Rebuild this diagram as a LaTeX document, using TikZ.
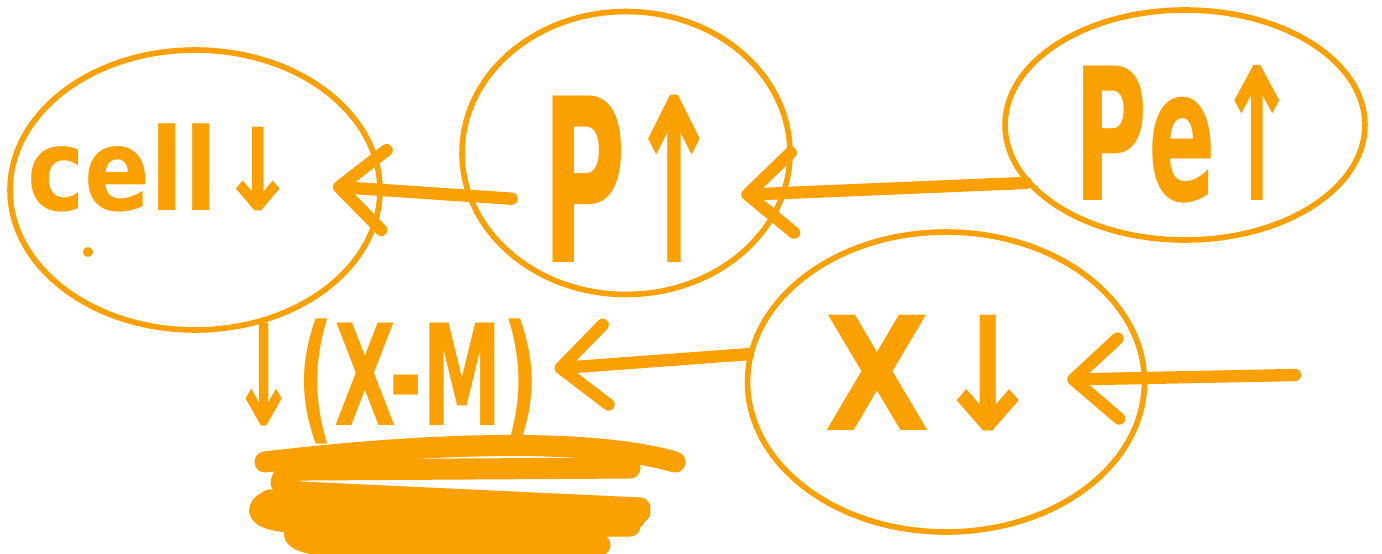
\documentclass[tikz,border=0pt]{standalone}
\usepackage{fontspec}
\usepackage{graphicx}
\setmainfont{DejaVu Sans}
\usetikzlibrary{shapes.geometric,arrows.meta}
\definecolor{marker}{RGB}{250,160,0}
\begin{document}
\begin{tikzpicture}[x=0.02cm,y=-0.02cm,
  blob/.style={draw=marker,line width=3.2pt,ellipse,inner sep=0pt},
  word/.style={text=marker,inner sep=0pt,anchor=base},
  link/.style={draw=marker,line width=7pt,line cap=round,
    -{Straight Barb[length=0.9cm,width=1.6cm,round]}},
  scribble/.style={draw=marker,line width=12pt,line cap=round,line join=round}]
  \useasboundingbox (0,0) rectangle (1382,554);

  % the four bubbles
  \node[blob,minimum width=7.4cm,minimum height=5.6cm] (cell) at (195,190) {};
  \node[blob,minimum width=6.56cm,minimum height=5.66cm] (p) at (626,153) {};
  \node[blob,minimum width=7.2cm,minimum height=4.6cm] (pe) at (1185,125) {};
  \node[blob,minimum width=7.94cm,minimum height=6cm] (x) at (946,382) {};

  % handwritten words
  \node[word,font=\bfseries\fontsize{65}{65}\selectfont] (celltext) at (163,210) {\scalebox{0.85}[1]{cell↓}};
  \node[word,font=\bfseries\fontsize{130}{130}\selectfont] (ptext) at (632,262) {\scalebox{0.5}[1]{P↑}};
  \node[word,font=\bfseries\fontsize{105}{105}\selectfont] (petext) at (1187,200) {\scalebox{0.54}[1]{Pe↑}};
  \node[word,font=\bfseries\fontsize{90}{90}\selectfont] (xtext) at (935,430) {\scalebox{0.87}[1]{X↓}};
  \node[word,font=\bfseries\fontsize{80}{80}\selectfont] (xm) at (385,425) {\scalebox{0.57}[1]{↓(X-M)}};
  \fill[marker] (88,252) circle (0.1cm);

  % arrows
  \draw[link,shorten <=-0.9cm,shorten >=-1cm] (p.195) -- (cell.east);
  \draw[link,shorten >=-0.9cm] (pe.200) -- (p.-14);
  \draw[link,shorten >=0.3cm] (x.172) -- (xm);
  \coordinate (in) at (1295,375);
  \draw[link,shorten >=-1.6cm] (in) -- (x);

  % scribbled-out part
  \draw[scribble] (265,462) .. controls (450,440) and (600,440) .. (675,462);
  \draw[scribble] (630,468) -- (300,470) .. controls (270,478) and (280,490) .. (300,492) -- (640,508);
  \draw[scribble] (640,512) -- (270,500) .. controls (250,510) and (260,520) .. (290,522) -- (635,518);
  \draw[scribble] (630,526) -- (300,526) .. controls (285,535) and (300,545) .. (330,545) -- (600,545);
\end{tikzpicture}
\end{document}
